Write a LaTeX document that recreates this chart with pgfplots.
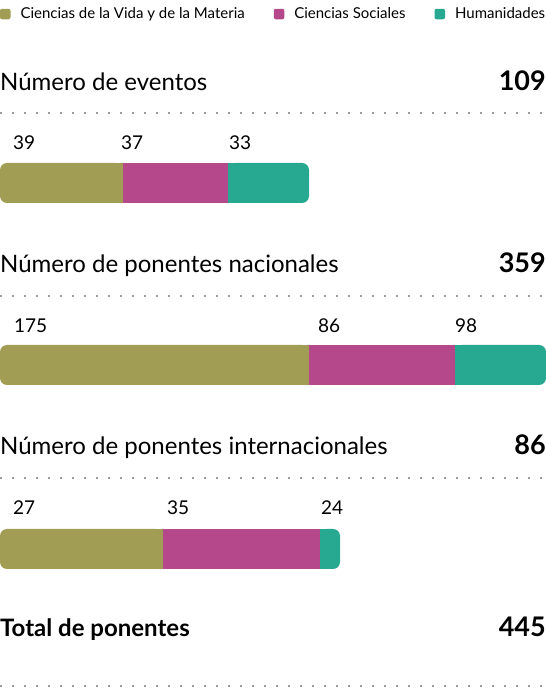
\documentclass[border=0pt]{standalone}
\usepackage{fontspec}
\setmainfont{Lato}
\usepackage{pgfplots}
\pgfplotsset{compat=1.18}
\definecolor{vida}{HTML}{A29D55}
\definecolor{soc}{HTML}{B4488A}
\definecolor{hum}{HTML}{26A891}
\definecolor{dotgray}{HTML}{9C9C9C}

\tikzset{
    seg/.style={draw=none, fill=#1},
    tip/.style={draw=none, fill=#1, rounded corners=7pt},
    ttl/.style={anchor=base west, inner sep=0pt, font=\fontsize{24}{28}\selectfont},
    tot/.style={anchor=base east, inner sep=0pt, font=\fontsize{27}{31}\selectfont\bfseries},
    val/.style={anchor=base west, inner sep=0pt, font=\fontsize{19}{22}\selectfont},
    sep/.style={dotgray, line width=2pt, dash pattern=on 2pt off 10pt},
}

\begin{document}
\begin{tikzpicture}
\begin{axis}[
    width=546pt, height=689pt, scale only axis,
    xmin=0, xmax=546, ymin=0, ymax=689,
    hide axis, clip=false,
    legend columns=3,
    legend image code/.code={\path[#1, draw=none, rounded corners=2pt] (0pt,-5.5pt) rectangle (10.5pt,5pt);},
    legend style={at={(0,0.98)}, anchor=west, draw=none, fill=none,
        inner sep=0pt, outer sep=0pt, font=\fontsize{15}{18}\selectfont,
        cells={anchor=west},
        /tikz/every even column/.append style={column sep=27pt},
        /tikz/every odd column/.append style={column sep=8pt}},
]
\addlegendimage{fill=vida}
\addlegendentry{Ciencias de la Vida y de la Materia}
\addlegendimage{fill=soc}
\addlegendentry{Ciencias Sociales}
\addlegendimage{fill=hum}
\addlegendentry{Humanidades}

% Número de eventos: 39 / 37 / 33 (segment ends 123, 228, 309)
\addplot[tip=vida, forget plot] coordinates {(60,526) (0,526) (0,486) (123,486) (123,526) (60,526)};
\addplot[seg=vida, forget plot] coordinates {(10,526) (123,526) (123,486) (10,486)};
\addplot[seg=soc, forget plot]  coordinates {(123,526) (228,526) (228,486) (123,486)};
\addplot[tip=hum, forget plot]  coordinates {(260,526) (309,526) (309,486) (228,486) (228,526) (260,526)};
\addplot[seg=hum, forget plot]  coordinates {(228,526) (299,526) (299,486) (228,486)};

% Número de ponentes nacionales: 175 / 86 / 98 (segment ends 309, 455, 546)
\addplot[tip=vida, forget plot] coordinates {(150,344) (0,344) (0,304) (309,304) (309,344) (150,344)};
\addplot[seg=vida, forget plot] coordinates {(10,344) (309,344) (309,304) (10,304)};
\addplot[seg=soc, forget plot]  coordinates {(309,344) (455,344) (455,304) (309,304)};
\addplot[tip=hum, forget plot]  coordinates {(500,344) (546,344) (546,304) (455,304) (455,344) (500,344)};
\addplot[seg=hum, forget plot]  coordinates {(455,344) (536,344) (536,304) (455,304)};

% Número de ponentes internacionales: 27 / 35 / 24 (segment ends 163, 320, 340)
\addplot[tip=vida, forget plot] coordinates {(80,160) (0,160) (0,120) (163,120) (163,160) (80,160)};
\addplot[seg=vida, forget plot] coordinates {(10,160) (163,160) (163,120) (10,120)};
\addplot[seg=soc, forget plot]  coordinates {(163,160) (320,160) (320,120) (163,120)};
\addplot[tip=hum, forget plot]  coordinates {(330,160) (340,160) (340,120) (320,120) (320,160) (330,160)};
\addplot[seg=hum, forget plot]  coordinates {(320,160) (332,160) (332,120) (320,120)};

% titles and totals
\node[ttl] at (axis cs:0,598) {Número de eventos};
\node[tot] at (axis cs:546,598) {109};
\node[ttl] at (axis cs:0,416) {Número de ponentes nacionales};
\node[tot] at (axis cs:546,416) {359};
\node[ttl] at (axis cs:0,234) {Número de ponentes internacionales};
\node[tot] at (axis cs:546,234) {86};
\node[ttl, font=\fontsize{24}{28}\selectfont\bfseries] at (axis cs:0,52) {Total de ponentes};
\node[tot] at (axis cs:546,52) {445};

% segment values
\node[val] at (axis cs:13,539) {39};
\node[val] at (axis cs:121,539) {37};
\node[val] at (axis cs:229,539) {33};
\node[val] at (axis cs:14,356) {175};
\node[val] at (axis cs:318,356) {86};
\node[val] at (axis cs:455,356) {98};
\node[val] at (axis cs:13,174) {27};
\node[val] at (axis cs:167,174) {35};
\node[val] at (axis cs:321,174) {24};

% dotted separators
\draw[sep] (axis cs:0,576) -- (axis cs:544,576);
\draw[sep] (axis cs:0,393) -- (axis cs:544,393);
\draw[sep] (axis cs:0,211) -- (axis cs:544,211);
\draw[sep] (axis cs:0,3) -- (axis cs:544,3);
\end{axis}
\pgfresetboundingbox
\path[use as bounding box] (current axis.south west) rectangle (current axis.north east);
\end{tikzpicture}
\end{document}
